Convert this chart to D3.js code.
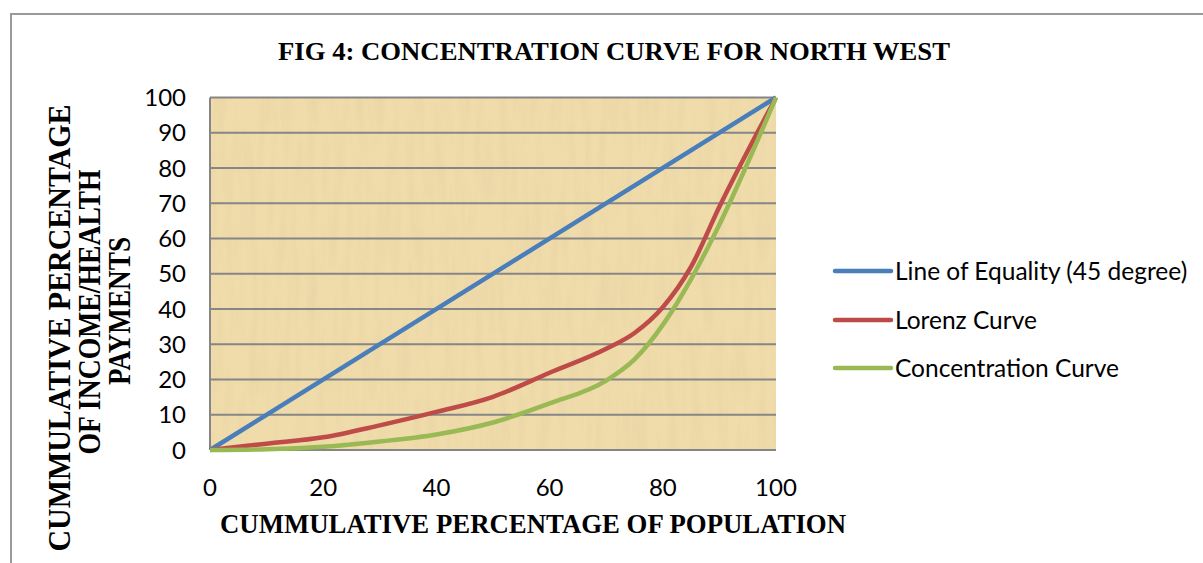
<!DOCTYPE html>
<html>
<head>
<meta charset="utf-8">
<script src="https://cdn.jsdelivr.net/npm/d3@7"></script>
<style>
  body { margin: 0; background: #fff; }
  svg { display: block; }
</style>
</head>
<body>
<div id="chart"></div>
<script>
// chart values
const popShare = [0, 10, 20, 30, 40, 50, 60, 70, 75, 80, 85, 90, 100];
const lorenz = [0, 1.8, 3.6, 7, 10.8, 15.1, 21.9, 28.7, 33.2, 40.5, 52, 69, 100];
const concentration = [0, 0.2, 0.9, 2.4, 4.4, 7.8, 13.2, 19.7, 25.7, 35.5, 48.5, 64, 100];
const equalityX = [0, 100];
const equalityY = [0, 100];
const xTicks = [0, 20, 40, 60, 80, 100];
const yTicks = [0, 10, 20, 30, 40, 50, 60, 70, 80, 90, 100];
const seriesNames = ["Line of Equality (45 degree)", "Lorenz Curve", "Concentration Curve"];
const seriesColors = ["#4a7ebb", "#be4b48", "#98b954"];

const width = 1203, height = 563;
const plot = { left: 210, right: 776, top: 97.5, bottom: 450 };

const svg = d3.select("#chart")
    .append("svg")
    .attr("width", width)
    .attr("height", height);

// outer frame (runs off the right / bottom edge like the reference)
svg.append("rect")
    .attr("x", 11).attr("y", 14)
    .attr("width", 1400).attr("height", 800)
    .attr("fill", "#fff")
    .attr("stroke", "#9a9a9a")
    .attr("stroke-width", 2);

const x = d3.scaleLinear().domain([0, 100]).range([plot.left, plot.right]);
const y = d3.scaleLinear().domain([0, 100]).range([plot.bottom, plot.top]);

// parchment-ish texture for the plot area
const defs = svg.append("defs");
const filt = defs.append("filter")
    .attr("id", "paper")
    .attr("x", 0).attr("y", 0).attr("width", 1).attr("height", 1);
filt.append("feTurbulence")
    .attr("type", "fractalNoise")
    .attr("baseFrequency", "0.12 0.015")
    .attr("numOctaves", 3)
    .attr("seed", 7)
    .attr("result", "noise");
filt.append("feColorMatrix")
    .attr("in", "noise")
    .attr("type", "matrix")
    .attr("values", "0 0 0 0 0.80  0 0 0 0 0.66  0 0 0 0 0.38  0 0 0 1.8 -0.75");

svg.append("rect")
    .attr("x", plot.left).attr("y", plot.top)
    .attr("width", plot.right - plot.left)
    .attr("height", plot.bottom - plot.top)
    .attr("fill", "#f0dbaa");

svg.append("rect")
    .attr("x", plot.left).attr("y", plot.top)
    .attr("width", plot.right - plot.left)
    .attr("height", plot.bottom - plot.top)
    .attr("filter", "url(#paper)")
    .attr("opacity", 0.8);

// gridlines
svg.append("g")
    .selectAll("line")
    .data(yTicks)
    .join("line")
    .attr("x1", plot.left).attr("x2", plot.right)
    .attr("y1", d => y(d)).attr("y2", d => y(d))
    .attr("stroke", "#868686")
    .attr("stroke-width", 2);

// left axis line
svg.append("line")
    .attr("x1", plot.left).attr("x2", plot.left)
    .attr("y1", plot.top).attr("y2", plot.bottom)
    .attr("stroke", "#868686")
    .attr("stroke-width", 2);

// tick labels
const tickFont = "Lato, 'Open Sans', sans-serif";
svg.append("g")
    .selectAll("text")
    .data(yTicks)
    .join("text")
    .attr("x", 186)
    .attr("y", d => y(d))
    .attr("dy", "0.36em")
    .attr("text-anchor", "end")
    .attr("font-family", tickFont)
    .attr("font-size", 24)
    .attr("fill", "#000")
    .text(d => d);

svg.append("g")
    .selectAll("text")
    .data(xTicks)
    .join("text")
    .attr("x", d => x(d))
    .attr("y", 496)
    .attr("text-anchor", "middle")
    .attr("font-family", tickFont)
    .attr("font-size", 24)
    .attr("fill", "#000")
    .text(d => d);

// series
const line = d3.line()
    .curve(d3.curveMonotoneX)
    .x(d => x(d[0]))
    .y(d => y(d[1]));

const series = [
    d3.zip(equalityX, equalityY),
    d3.zip(popShare, lorenz),
    d3.zip(popShare, concentration)
];

svg.append("g")
    .selectAll("path")
    .data(series)
    .join("path")
    .attr("fill", "none")
    .attr("stroke", (d, i) => seriesColors[i])
    .attr("stroke-width", 4.5)
    .attr("stroke-linejoin", "round")
    .attr("d", line);

// legend
const legendY = [271, 320, 368];
const legend = svg.append("g")
    .selectAll("g")
    .data(seriesNames)
    .join("g")
    .attr("transform", (d, i) => `translate(835,${legendY[i]})`);

legend.append("line")
    .attr("x1", 0).attr("x2", 56)
    .attr("stroke", (d, i) => seriesColors[i])
    .attr("stroke-width", 4.5)
    .attr("stroke-linecap", "round");

legend.append("text")
    .attr("x", 60)
    .attr("dy", "0.36em")
    .attr("font-family", tickFont)
    .attr("font-size", 24.5)
    .attr("fill", "#000")
    .text(d => d);

// titles
const serif = "'Liberation Serif', 'DejaVu Serif', serif";
svg.append("text")
    .attr("x", 278).attr("y", 60)
    .attr("font-family", serif)
    .attr("font-weight", "bold")
    .attr("font-size", 26)
    .attr("textLength", 672)
    .attr("lengthAdjust", "spacingAndGlyphs")
    .text("FIG 4: CONCENTRATION CURVE FOR NORTH WEST");

svg.append("text")
    .attr("x", 220).attr("y", 533)
    .attr("font-family", serif)
    .attr("font-weight", "bold")
    .attr("font-size", 28)
    .attr("textLength", 626)
    .attr("lengthAdjust", "spacingAndGlyphs")
    .text("CUMMULATIVE PERCENTAGE OF POPULATION");

// y title, three rotated lines
const yTitle = [
    { text: "CUMMULATIVE PERCENTAGE", base: 70, mid: 328, len: 447 },
    { text: "OF INCOME/HEALTH", base: 100, mid: 312, len: 285 },
    { text: "PAYMENTS", base: 130, mid: 311, len: 148 }
];
svg.append("g")
    .selectAll("text")
    .data(yTitle)
    .join("text")
    .attr("transform", d => `translate(${d.base},${d.mid}) rotate(-90)`)
    .attr("text-anchor", "middle")
    .attr("font-family", serif)
    .attr("font-weight", "bold")
    .attr("font-size", 31)
    .attr("textLength", d => d.len)
    .attr("lengthAdjust", "spacingAndGlyphs")
    .text(d => d.text);
</script>
</body>
</html>
